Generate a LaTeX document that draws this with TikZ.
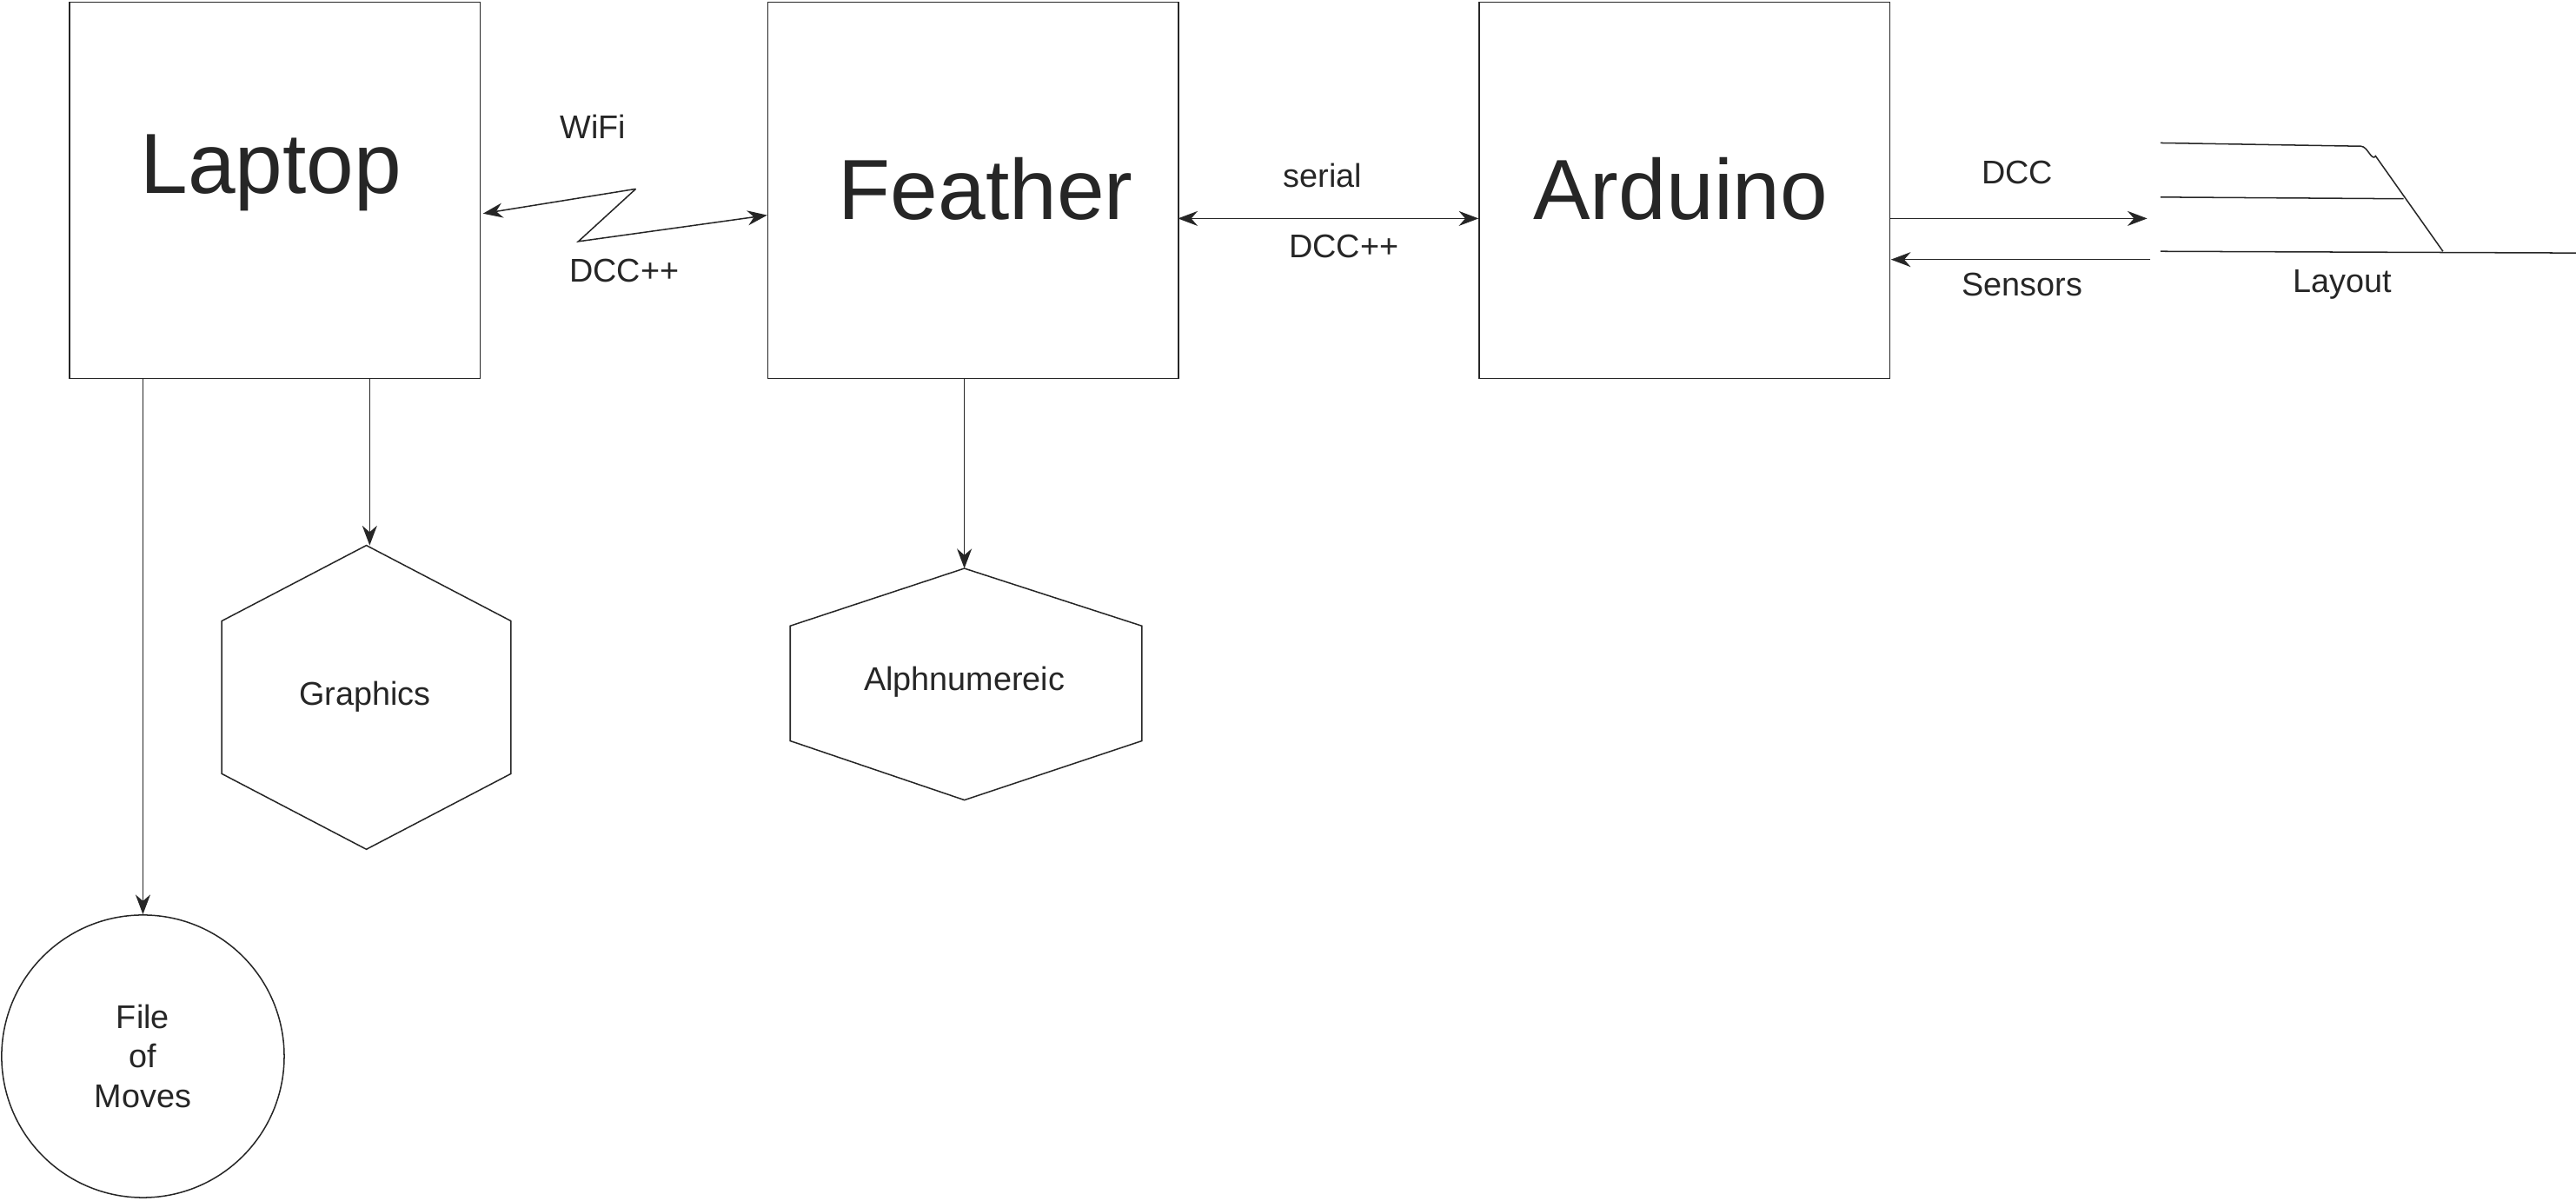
\documentclass[tikz,border=0pt]{standalone}
\usepackage{fontspec}
\setmainfont{Liberation Sans}
\usetikzlibrary{arrows.meta}
\begin{document}
\begin{tikzpicture}[x=1pt,y=-1pt,line width=0.8pt,color={black!85},
  box/.style={draw,minimum width=250pt,minimum height=229pt,anchor=north west,inner sep=0},
  big/.style={font=\fontsize{52}{60}\selectfont},
  lbl/.style={font=\fontsize{20}{24}\selectfont},
  arr/.style={-{Stealth[length=12pt,width=9pt]}},
  darr/.style={{Stealth[length=12pt,width=9pt]}-{Stealth[length=12pt,width=9pt]}}]
\useasboundingbox (0,0) rectangle (1568,731);
\node[box] (laptop) at (42,1) {};
\node[big] at (165,105) {Laptop};
\node[box] (feather) at (467,1) {};
\node[big] at (600,115) {Feather};
\node[box] (arduino) at (900,1) {};
\node[big] at (1023,115) {Arduino};
% wifi
\coordinate (z1) at (387,115);
\coordinate (z2) at (352,147);
\draw[arr] (z1) -- (294,130);
\draw[arr] (z1) -- (z2) -- (467,131);
\node[lbl] (wifi) at (361,77) {WiFi};
\node[lbl] (dcc1) at (380,165) {DCC++};
% serial
\draw[darr] (717,133) -- (900,133);
\node[lbl] (serial) at (805,107) {serial};
\node[lbl] (dcc2) at (818,150) {DCC++};
% DCC / Sensors
\draw[arr] (1150,133) -- (1307,133);
\draw[arr] (1309,158) -- (1151,158);
\node[lbl] (dcc3) at (1228,105) {DCC};
\node[lbl] (sens) at (1231,173) {Sensors};
% layout
\draw (1315,87) -- (1437,89) to[out=0,in=-125] (1446,95) -- (1487,153);
\draw (1315,120) -- (1463,121);
\draw (1315,153) -- (1568,154);
\node[lbl] (layout) at (1426,173) {Layout};
% file of moves
\node[draw,circle,minimum size=172pt,inner sep=0,lbl,align=center] (file) at (87,643) {File\\of\\Moves};
\draw[arr] (87,230) -- (file.north);
% graphics
\draw (223,332) -- (311,378) -- (311,471) -- (223,517) -- (135,471) -- (135,378) -- cycle;
\node[lbl] (graphics) at (222,424) {Graphics};
\coordinate (gtop) at (225,332);
\draw[arr] (225,230) -- (gtop);
% alphanumeric
\draw (587,346) -- (695,381) -- (695,451) -- (587,487) -- (481,451) -- (481,381) -- cycle;
\node[lbl] (alpha) at (587,415) {Alphnumereic};
\coordinate (atop) at (587,346);
\draw[arr] (587,230) -- (atop);
\end{tikzpicture}
\end{document}
